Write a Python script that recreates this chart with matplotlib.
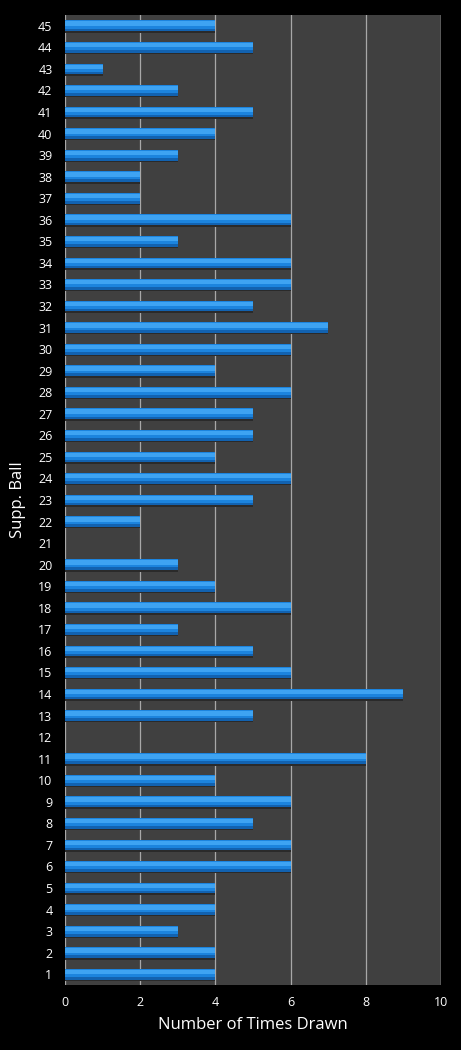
import matplotlib
matplotlib.use("Agg")
import matplotlib.pyplot as plt
import numpy as np

balls = [str(i) for i in range(1, 46)]
times_drawn = [4, 4, 3, 4, 4, 6, 6, 5, 6, 4,
               8, 0, 5, 9, 6, 5, 3, 6, 4, 3,
               0, 2, 5, 6, 4, 5, 5, 6, 4, 6,
               7, 5, 6, 6, 3, 6, 2, 2, 3, 4,
               5, 3, 1, 5, 4]
x_ticks = [0, 2, 4, 6, 8, 10]

plt.rcParams['font.family'] = ['Open Sans', 'DejaVu Sans']

fig = plt.figure(figsize=(4.61, 10.5), dpi=100, facecolor='black')
ax = fig.add_axes([65/461, 1-985/1050, 376/461, 970/1050])
ax.set_facecolor('#404040')

y = np.arange(len(balls))
vals = np.array(times_drawn, dtype=float)
# soft shadow under bar
ax.barh(y - 0.06, vals, height=0.52, color='#2a2a2a', linewidth=0, zorder=2)
# main bar
ax.barh(y, vals, height=0.5, color='#1c84de', linewidth=0, zorder=3)
# highlight (upper part)
ax.barh(y + 0.1, vals, height=0.2, color='#3ea3f2', linewidth=0, zorder=4)
# darker lower part
ax.barh(y - 0.19, vals, height=0.12, color='#1262b0', linewidth=0, zorder=4)

ax.set_xlim(0, 10)
ax.set_ylim(-0.5, len(balls) - 0.5)
ax.set_xticks(x_ticks)
ax.set_xticklabels([str(t) for t in x_ticks])
ax.set_yticks(y)
ax.set_yticklabels(balls)
ax.xaxis.grid(True, color='#a8a8a8', linewidth=0.9, zorder=1)
ax.set_axisbelow(True)
for s in ax.spines.values():
    s.set_visible(False)
ax.axvline(10, color='#a8a8a8', linewidth=0.9, zorder=1)
ax.tick_params(axis='both', colors='white', labelsize=9, length=0, pad=8)
ax.tick_params(axis='y', pad=9)
ax.set_xlabel('Number of Times Drawn', color='white', fontsize=12, labelpad=6)
ax.set_ylabel('Supp. Ball', color='white', fontsize=12)
ax.yaxis.set_label_coords(-0.105, 0.5)

fig.savefig('out.png', dpi=100, facecolor='black')
